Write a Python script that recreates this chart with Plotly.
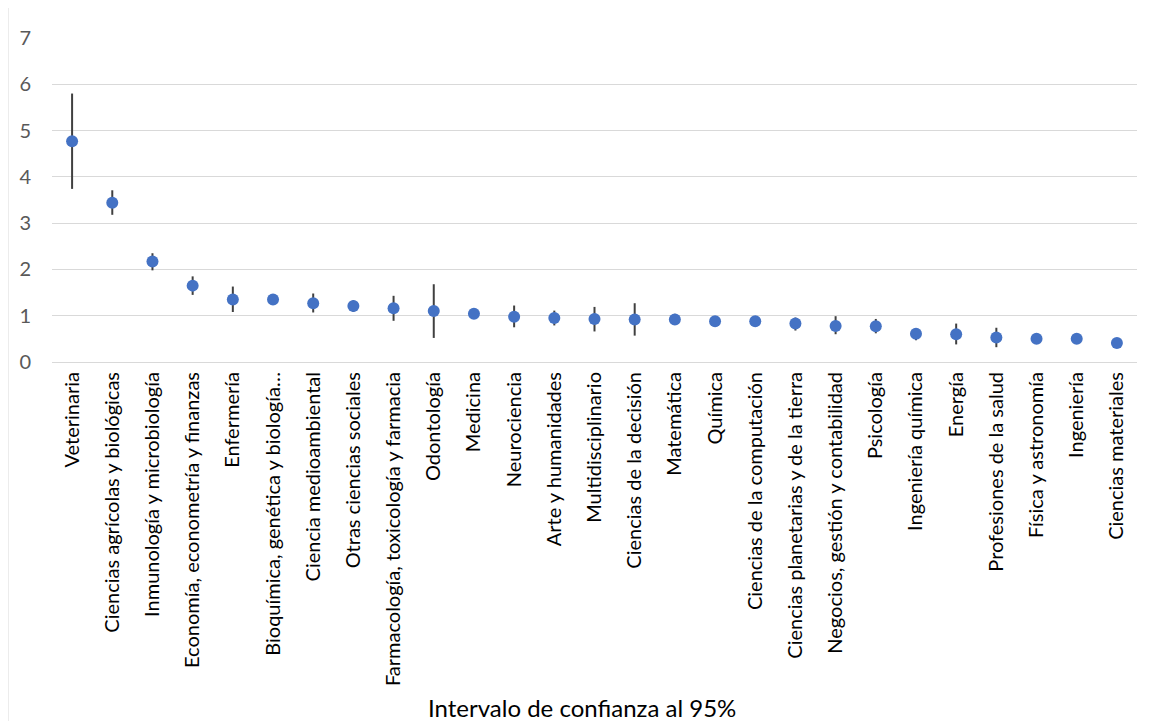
import plotly.graph_objects as go

categories = [
    "Veterinaria", "Ciencias agrícolas y biológicas", "Inmunología y microbiología",
    "Economía, econometría y finanzas", "Enfermería", "Bioquímica, genética y biología…",
    "Ciencia medioambiental", "Otras ciencias sociales", "Farmacología, toxicología y farmacia",
    "Odontología", "Medicina", "Neurociencia", "Arte y humanidades", "Multidisciplinario",
    "Ciencias de la decisión", "Matemática", "Química", "Ciencias de la computación",
    "Ciencias planetarias y de la tierra", "Negocios, gestión y contabilidad", "Psicología",
    "Ingeniería química", "Energía", "Profesiones de la salud", "Física y astronomía",
    "Ingeniería", "Ciencias materiales",
]
values = [4.77, 3.44, 2.17, 1.65, 1.35, 1.35, 1.27, 1.21, 1.16, 1.10, 1.04, 0.98, 0.95, 0.93,
          0.92, 0.92, 0.88, 0.88, 0.83, 0.78, 0.77, 0.61, 0.60, 0.53, 0.50, 0.50, 0.41]
upper = [5.80, 3.71, 2.35, 1.85, 1.63, 1.40, 1.48, 1.33, 1.43, 1.68, 1.08, 1.22, 1.11, 1.19,
         1.27, 1.04, 0.92, 0.92, 0.96, 0.99, 0.93, 0.73, 0.83, 0.74, 0.53, 0.53, 0.44]
lower = [3.74, 3.18, 1.98, 1.45, 1.08, 1.30, 1.07, 1.08, 0.89, 0.52, 1.00, 0.75, 0.79, 0.66,
         0.57, 0.80, 0.84, 0.84, 0.68, 0.60, 0.62, 0.47, 0.38, 0.32, 0.47, 0.47, 0.38]

err_plus = [u - v for u, v in zip(upper, values)]
err_minus = [v - l for v, l in zip(values, lower)]

# page has an 8px body margin, so the figure starts at (8, 8)
W, H = 1141, 713
PL, PR, PT, PB = 44, 1129, 30, 354  # plot area in figure pixels

fig = go.Figure()
fig.add_trace(go.Scatter(
    x=categories, y=values, mode="markers",
    marker=dict(color="#4472C4", size=12, symbol="circle"),
    error_y=dict(type="data", symmetric=False, array=err_plus, arrayminus=err_minus,
                 color="#404040", thickness=2, width=0),
    showlegend=False,
))

pw, ph = PR - PL, PB - PT

fig.update_layout(
    width=W, height=H,
    margin=dict(l=PL, r=W - PR, t=PT, b=H - PB, pad=0),
    paper_bgcolor="white", plot_bgcolor="white",
    font=dict(family="Lato, Open Sans, sans-serif", color="#000000"),
    xaxis=dict(
        type="category", range=[-0.5, len(categories) - 0.5],
        tickangle=-90, tickfont=dict(size=20, color="#000000"),
        showgrid=False, showline=False, zeroline=False,
        ticks="", ticklabelstandoff=5,
    ),
    yaxis=dict(
        range=[0, 7], dtick=1, showgrid=True, gridcolor="#D9D9D9", gridwidth=1,
        zeroline=True, zerolinecolor="#D9D9D9", zerolinewidth=1,
        showline=False, ticks="", tickfont=dict(size=20, color="#595959"),
        ticklabelstandoff=20,
    ),
    annotations=[dict(
        text="Intervalo de confianza al 95%", xref="paper", yref="paper",
        x=(582 - 8 - PL) / pw, y=(PB - (707 - 8)) / ph, xanchor="center", yanchor="middle",
        showarrow=False, font=dict(size=24, color="#000000"),
    )],
    shapes=[dict(
        type="rect", xref="paper", yref="paper",
        x0=(0 - PL) / pw, x1=(1137 - PL) / pw,
        y0=(PB - 760) / ph, y1=(PB - (-2)) / ph,
        line=dict(color="#D9D9D9", width=1), fillcolor="rgba(0,0,0,0)", layer="below",
    )],
)

fig.write_html("out.html")
